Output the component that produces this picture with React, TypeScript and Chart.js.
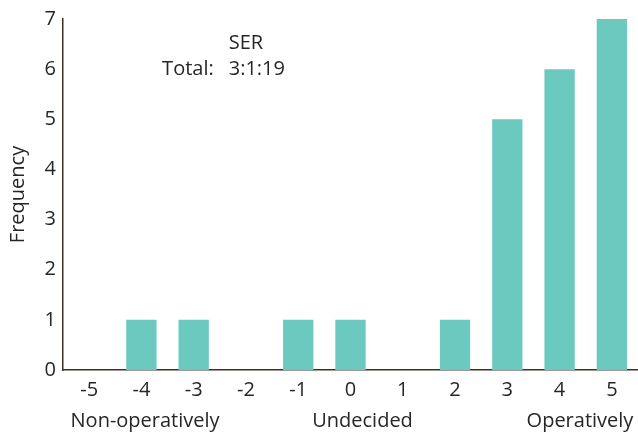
import React, { useEffect, useRef } from "react";
import { Chart, registerables } from "chart.js";

Chart.register(...registerables);

const categories: string[] = ["-5", "-4", "-3", "-2", "-1", "0", "1", "2", "3", "4", "5"];
const frequency: number[] = [0, 1, 1, 0, 1, 1, 0, 1, 5, 6, 7];
const yTicks: number[] = [0, 1, 2, 3, 4, 5, 6, 7];
const groupLabels: string[] = ["Non-operatively", "Undecided", "Operatively"];
const groupPositions: number[] = [1.07, 5.23, 9.39];
const annotationTitle = "SER";
const annotationLabel = "Total:";
const annotationValue = "3:1:19";

const FONT = "'Open Sans', 'Noto Sans', sans-serif";
const TEXT = "#262626";
const AXIS = "#3a3024";

const textPlugin = {
  id: "serText",
  afterDraw(chart: any) {
    const { ctx, scales } = chart;
    const xs = scales.x;
    const ys = scales.y;
    ctx.save();
    ctx.fillStyle = TEXT;
    ctx.font = `20px ${FONT}`;
    ctx.textBaseline = "middle";
    const ax = xs.getPixelForValue(2.67);
    ctx.textAlign = "left";
    ctx.fillText(annotationTitle, ax, ys.getPixelForValue(6.52));
    ctx.fillText(annotationValue, ax, ys.getPixelForValue(5.99));
    ctx.textAlign = "right";
    ctx.fillText(annotationLabel, ax - 15, ys.getPixelForValue(5.99));
    ctx.textAlign = "center";
    const gy = xs.bottom - 15;
    groupLabels.forEach((g, i) => {
      ctx.fillText(g, xs.getPixelForValue(groupPositions[i]), gy);
    });
    ctx.restore();
  },
};

export default function App() {
  const ref = useRef<HTMLCanvasElement | null>(null);
  useEffect(() => {
    if (!ref.current) return;
    const chart = new Chart(ref.current, {
      type: "bar",
      data: {
        labels: categories,
        datasets: [
          {
            data: frequency,
            backgroundColor: "#6cc9bf",
            borderWidth: 0,
            barPercentage: 0.58,
            categoryPercentage: 1,
          },
        ],
      },
      options: {
        animation: false,
        responsive: false,
        maintainAspectRatio: false,
        layout: { padding: { top: 16, right: 0, left: 0, bottom: 0 } },
        plugins: { legend: { display: false }, tooltip: { enabled: false } },
        scales: {
          x: {
            grid: { display: false, drawTicks: false },
            border: { display: true, color: AXIS, width: 1.5 },
            ticks: { color: TEXT, font: { family: FONT, size: 20 }, padding: 8, maxRotation: 0 },
            afterFit: (s: any) => {
              s.height = 66;
            },
          },
          y: {
            min: 0,
            max: 7,
            afterBuildTicks: (s: any) => {
              s.ticks = yTicks.map((v) => ({ value: v }));
            },
            grid: { display: false, drawTicks: false },
            border: { display: true, color: AXIS, width: 1.5 },
            ticks: { color: TEXT, font: { family: FONT, size: 20 }, padding: 7 },
            title: {
              display: true,
              text: "Frequency",
              color: TEXT,
              font: { family: FONT, size: 20 },
              padding: { top: 6, bottom: 0 },
            },
            afterFit: (s: any) => {
              s.width = 63;
            },
          },
        },
      },
      plugins: [textPlugin],
    });
    return () => chart.destroy();
  }, []);
  return (
    <div style={{ position: "fixed", left: 0, top: 0, width: 638, height: 436, background: "#fff" }}>
      <canvas ref={ref} width={638} height={436} style={{ width: 638, height: 436 }} />
    </div>
  );
}
